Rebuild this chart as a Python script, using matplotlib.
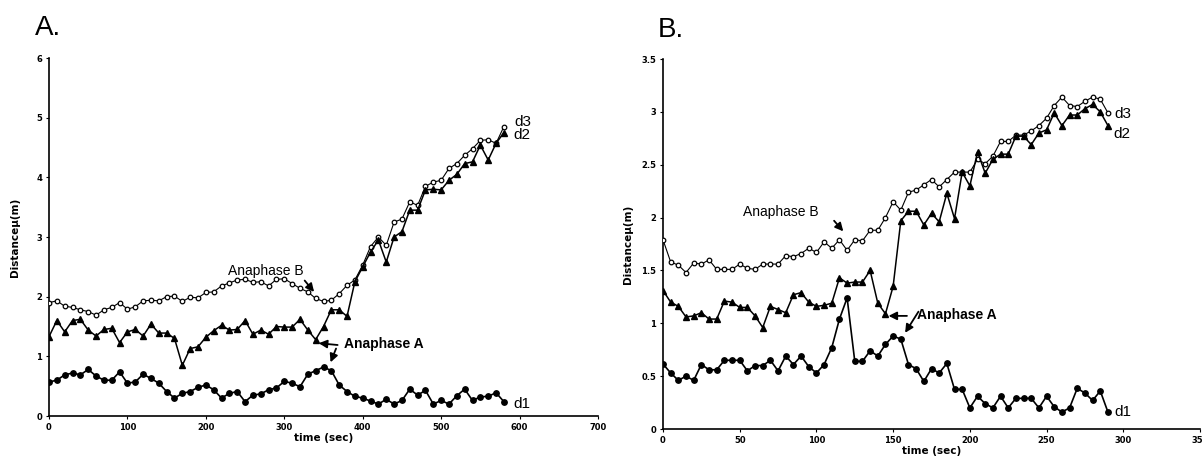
import numpy as np
import matplotlib
matplotlib.use("Agg")
import matplotlib.pyplot as plt

# ---- Panel A: distances over time (10 s sampling) ----
time_a = np.arange(0, 590, 10)
d1_a = [0.57, 0.60, 0.69, 0.72, 0.69, 0.78, 0.67, 0.60, 0.60, 0.74,
        0.55, 0.57, 0.70, 0.63, 0.55, 0.41, 0.30, 0.38, 0.41, 0.48,
        0.52, 0.44, 0.30, 0.38, 0.41, 0.24, 0.35, 0.37, 0.44, 0.47,
        0.58, 0.55, 0.49, 0.70, 0.76, 0.82, 0.76, 0.52, 0.41, 0.33,
        0.30, 0.25, 0.20, 0.28, 0.20, 0.26, 0.45, 0.35, 0.43, 0.20,
        0.26, 0.20, 0.34, 0.45, 0.26, 0.32, 0.33, 0.39, 0.24]
d2_a = [1.33, 1.60, 1.41, 1.60, 1.62, 1.44, 1.34, 1.45, 1.47, 1.23,
        1.41, 1.45, 1.34, 1.54, 1.39, 1.39, 1.30, 0.85, 1.13, 1.16,
        1.32, 1.43, 1.52, 1.44, 1.45, 1.60, 1.37, 1.44, 1.37, 1.50,
        1.49, 1.49, 1.62, 1.44, 1.28, 1.50, 1.78, 1.78, 1.67, 2.25,
        2.50, 2.75, 2.95, 2.58, 3.00, 3.09, 3.45, 3.45, 3.79, 3.80,
        3.79, 3.95, 4.05, 4.23, 4.26, 4.54, 4.29, 4.57, 4.75]
d3_a = [1.90, 1.93, 1.84, 1.82, 1.78, 1.75, 1.69, 1.78, 1.82, 1.90,
        1.79, 1.83, 1.93, 1.94, 1.93, 2.00, 2.01, 1.92, 1.99, 1.98,
        2.07, 2.08, 2.18, 2.23, 2.28, 2.29, 2.24, 2.25, 2.18, 2.29,
        2.30, 2.22, 2.14, 2.08, 1.97, 1.92, 1.94, 2.05, 2.19, 2.28,
        2.53, 2.84, 3.00, 2.86, 3.25, 3.30, 3.59, 3.53, 3.85, 3.92,
        3.95, 4.15, 4.23, 4.37, 4.48, 4.62, 4.63, 4.57, 4.85]

# ---- Panel B: distances over time (5 s sampling) ----
time_b = np.arange(0, 295, 5)
d1_b = [0.615, 0.53, 0.46, 0.50, 0.46, 0.61, 0.56, 0.56, 0.65, 0.65,
        0.65, 0.55, 0.60, 0.60, 0.65, 0.55, 0.69, 0.61, 0.69, 0.59,
        0.53, 0.61, 0.77, 1.04, 1.24, 0.64, 0.64, 0.74, 0.69, 0.80,
        0.88, 0.85, 0.61, 0.57, 0.45, 0.57, 0.53, 0.62, 0.375, 0.375,
        0.20, 0.31, 0.24, 0.20, 0.31, 0.20, 0.29, 0.29, 0.29, 0.20,
        0.31, 0.21, 0.16, 0.20, 0.385, 0.34, 0.27, 0.36, 0.16]
d2_b = [1.31, 1.20, 1.16, 1.06, 1.07, 1.10, 1.04, 1.04, 1.21, 1.20,
        1.15, 1.15, 1.07, 0.96, 1.16, 1.13, 1.10, 1.27, 1.29, 1.20,
        1.16, 1.17, 1.19, 1.43, 1.38, 1.39, 1.39, 1.50, 1.19, 1.09,
        1.35, 1.97, 2.06, 2.06, 1.93, 2.04, 1.96, 2.23, 1.99, 2.43,
        2.30, 2.62, 2.42, 2.55, 2.60, 2.60, 2.77, 2.77, 2.69, 2.80,
        2.83, 2.99, 2.87, 2.97, 2.97, 3.03, 3.07, 3.00, 2.87]
d3_b = [1.79, 1.58, 1.55, 1.48, 1.57, 1.56, 1.60, 1.51, 1.51, 1.51,
        1.56, 1.52, 1.51, 1.56, 1.56, 1.56, 1.64, 1.63, 1.66, 1.71,
        1.67, 1.77, 1.71, 1.79, 1.69, 1.79, 1.78, 1.88, 1.88, 2.00,
        2.15, 2.07, 2.24, 2.26, 2.31, 2.36, 2.29, 2.36, 2.43, 2.43,
        2.43, 2.55, 2.51, 2.58, 2.72, 2.72, 2.78, 2.78, 2.82, 2.87,
        2.94, 3.06, 3.14, 3.06, 3.05, 3.10, 3.14, 3.12, 2.99]

TICK_FONT = dict(family="DejaVu Sans", weight="bold", size=6)
LABEL_FONT = dict(family="DejaVu Sans", weight="bold", size=7.5)

fig = plt.figure(figsize=(12.03, 4.65), dpi=100)
ax_a = fig.add_axes([49 / 1203, 49 / 465, 549 / 1203, 358 / 465])
ax_b = fig.add_axes([663 / 1203, 36 / 465, 537 / 1203, 370 / 465])


def draw_series(ax, t, d1, d2, d3):
    ax.plot(t, d3, "-", color="black", lw=0.8, marker="o", ms=3.3,
            mfc="white", mec="black", mew=0.9, zorder=3)
    ax.plot(t, d2, "-", color="black", lw=1.1, marker="^", ms=4.3,
            mfc="black", mec="black", zorder=4)
    ax.plot(t, d1, "-", color="black", lw=1.2, marker="o", ms=3.9,
            mfc="black", mec="black", zorder=5)


def style_axes(ax, xmax, xstep, ymax, ystep, ylabels, ypad):
    ax.set_xlim(0, xmax)
    ax.set_ylim(0, ymax)
    ax.set_xticks(np.arange(0, xmax + 1, xstep))
    ax.set_yticks(np.arange(0, ymax + 1e-9, ystep))
    ax.set_yticklabels(ylabels)
    for s in ("top", "right"):
        ax.spines[s].set_visible(False)
    for s in ("left", "bottom"):
        ax.spines[s].set_linewidth(1.2)
    ax.tick_params(direction="out", length=2, width=0.8, pad=3)
    for lab in ax.get_xticklabels() + ax.get_yticklabels():
        lab.set_fontfamily(TICK_FONT["family"])
        lab.set_fontweight(TICK_FONT["weight"])
        lab.set_fontsize(TICK_FONT["size"])
    ax.set_xlabel("time (sec)", labelpad=1, **LABEL_FONT)
    ax.set_ylabel("Distanceμ(m)", labelpad=ypad, **LABEL_FONT)


ARROW = dict(arrowstyle="-|>", color="black", lw=1.3,
             mutation_scale=12, shrinkA=0, shrinkB=0)

# Panel A
draw_series(ax_a, time_a, d1_a, d2_a, d3_a)
style_axes(ax_a, 700, 100, 6, 1, ["0", "1", "2", "3", "4", "5", "6"], 12)
ax_a.text(228, 2.43, "Anaphase B", fontsize=10, family="Liberation Sans",
          ha="left", va="center")
ax_a.annotate("", xy=(338, 2.08), xytext=(326, 2.27), arrowprops=ARROW)
ax_a.text(376, 1.21, "Anaphase A", fontsize=10, family="Liberation Sans",
          weight="bold", ha="left", va="center")
ax_a.annotate("", xy=(344, 1.22), xytext=(368, 1.19), arrowprops=ARROW)
ax_a.annotate("", xy=(359, 0.90), xytext=(366, 1.13), arrowprops=ARROW)
ax_a.text(594, 4.92, "d3", fontsize=11, family="Liberation Sans", va="center")
ax_a.text(592, 4.71, "d2", fontsize=11, family="Liberation Sans", va="center")
ax_a.text(592, 0.20, "d1", fontsize=11, family="Liberation Sans", va="center")

# Panel B
draw_series(ax_b, time_b, d1_b, d2_b, d3_b)
style_axes(ax_b, 350, 50, 3.5, 0.5,
           ["0", "0.5", "1", "1.5", "2", "2.5", "3", "3.5"], 6)
ax_b.text(52, 2.05, "Anaphase B", fontsize=10, family="Liberation Sans",
          ha="left", va="center")
ax_b.annotate("", xy=(117.5, 1.87), xytext=(111.5, 1.97), arrowprops=ARROW)
ax_b.text(165.6, 1.08, "Anaphase A", fontsize=10, family="Liberation Sans",
          weight="bold", ha="left", va="center")
ax_b.annotate("", xy=(147, 1.07), xytext=(159, 1.07), arrowprops=ARROW)
ax_b.annotate("", xy=(157.8, 0.91), xytext=(166.5, 1.11), arrowprops=ARROW)
ax_b.text(294.5, 2.98, "d3", fontsize=11, family="Liberation Sans", va="center")
ax_b.text(293.5, 2.79, "d2", fontsize=11, family="Liberation Sans", va="center")
ax_b.text(294.5, 0.16, "d1", fontsize=11, family="Liberation Sans", va="center")

# Panel letters
fig.text(35 / 1203, 1 - 35 / 465, "A.", fontsize=20,
         family="Liberation Sans", va="baseline", ha="left")
fig.text(658 / 1203, 1 - 37 / 465, "B.", fontsize=20,
         family="Liberation Sans", va="baseline", ha="left")

fig.savefig("out.png", dpi=100)
